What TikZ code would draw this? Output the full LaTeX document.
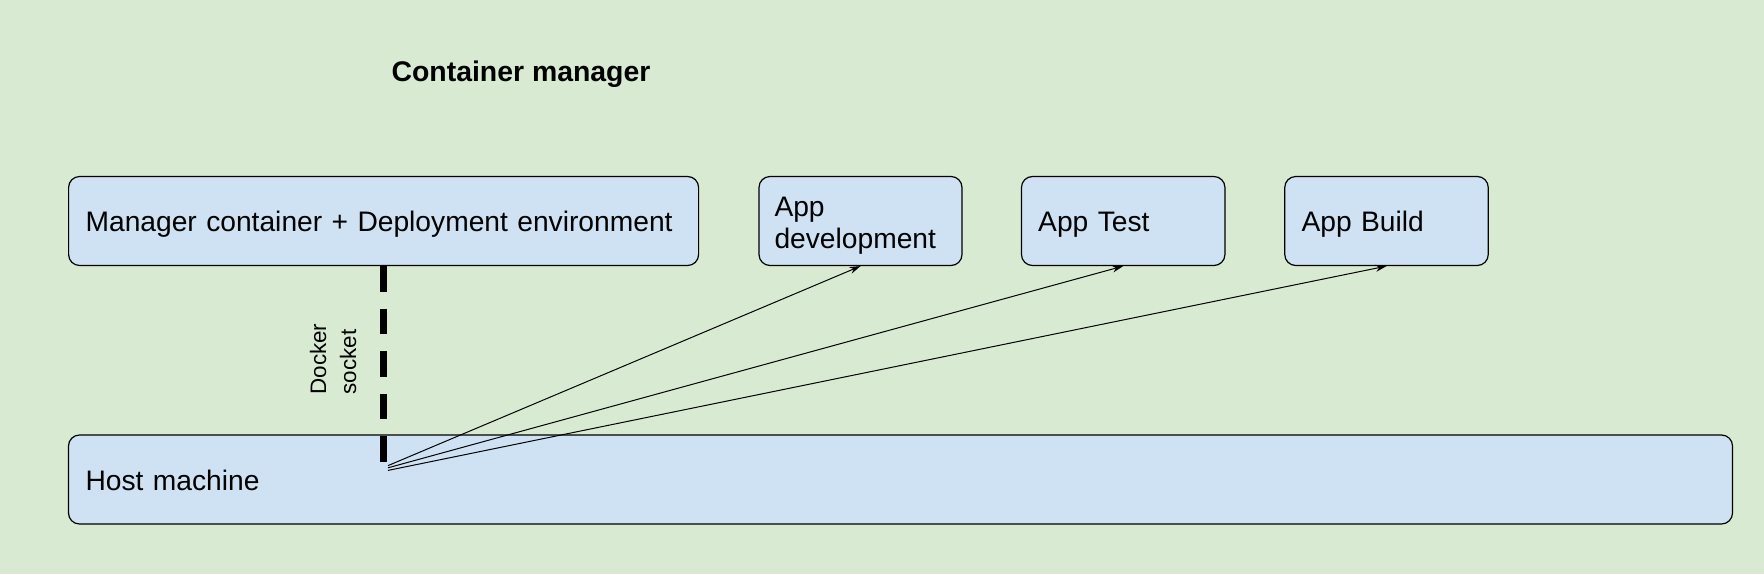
\documentclass[tikz,border=0pt]{standalone}
\usepackage{fontspec}
\setmainfont{Liberation Sans}
\usetikzlibrary{arrows.meta}
\definecolor{bggreen}{HTML}{D9EAD3}
\definecolor{boxblue}{HTML}{CFE2F3}
\begin{document}
\begin{tikzpicture}[x=1pt,y=-1pt,
  box/.style={draw=black, line width=1.2pt, fill=boxblue, rounded corners=11pt,
    minimum height=89pt, inner xsep=0pt, inner ysep=0pt, align=left,
    text height=27pt, text depth=6pt,
    font=\fontsize{28.2}{32.6}\selectfont},
  link/.style={line width=1pt, -{Stealth[length=11pt,width=7pt]}},
  socketline/.style={line width=7pt, dash pattern=on 25.5pt off 17pt}
]
\fill[bggreen] (0,0) rectangle (1764,574);
\useasboundingbox (0,0) rectangle (1764,574);

\node[font=\bfseries\fontsize{28.4}{32}\selectfont] (title) at (521,74.3) {Container manager};

\node[box, minimum width=630pt, text width=596pt] (mgr) at (383.6,221) {Manager container + Deployment environment};
\node[box, minimum width=203pt, text width=172pt, text height=29pt, text depth=38.6pt] (appdev) at (860.5,221) {App\\development};
\node[box, minimum width=203.5pt, text width=170pt] (apptest) at (1123.2,221) {App Test};
\node[box, minimum width=203.5pt, text width=170pt] (appbuild) at (1386.5,221) {App Build};
\node[box, minimum width=1664pt, text width=1630pt] (host) at (900.5,479.5) {Host machine};

\node[rotate=90, align=left, font=\fontsize{22.4}{30}\selectfont, inner sep=0pt] (sock) at (333,359) {Docker\\socket};

\coordinate (sockend) at (383.6,463.5);
\draw[socketline] (mgr.south) -- (sockend);

\coordinate (h1) at (388,465.6);
\coordinate (h2) at (388,467.8);
\coordinate (h3) at (388,470.4);
\draw[link] (h1) -- (appdev.south);
\draw[link] (h2) -- (apptest.south);
\draw[link] (h3) -- (appbuild.south);
\end{tikzpicture}
\end{document}
